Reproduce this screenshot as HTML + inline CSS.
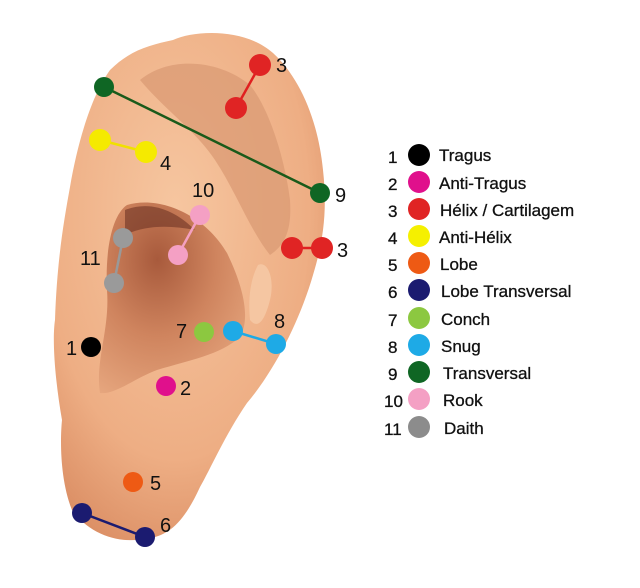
<!DOCTYPE html>
<html><head><meta charset="utf-8"><style>
html,body{margin:0;padding:0;background:#fff;}
svg{display:block}
text{font-family:"Liberation Sans",sans-serif;fill:#111;}
</style></head><body>
<svg width="640" height="588" viewBox="0 0 640 588" xmlns="http://www.w3.org/2000/svg">
<defs>
<radialGradient id="sk" cx="0.45" cy="0.35" r="0.7">
<stop offset="0" stop-color="#f6c6a0"/><stop offset="0.7" stop-color="#eeae84"/><stop offset="1" stop-color="#dc9066"/>
</radialGradient>
<radialGradient id="in" cx="0.4" cy="0.3" r="0.8">
<stop offset="0" stop-color="#a85a3c"/><stop offset="0.5" stop-color="#cf845e"/><stop offset="1" stop-color="#e6a67e"/>
</radialGradient>
</defs>
<path d="M173,40 C195,30 245,28 273,53 C300,78 318,120 323,170 C328,215 322,245 313,275 C300,320 275,370 247,403 C225,435 210,470 200,487 C185,520 170,535 150,538 C120,545 90,535 72,510 C60,480 60,440 62,420 C55,380 52,340 55,320 C57,260 64,220 70,187 C78,140 92,95 110,70 C130,50 150,45 173,40 Z" fill="url(#sk)"/>
<path d="M140,80 C170,55 220,60 250,85 C270,110 285,160 290,200 C292,230 285,245 270,255 C250,230 235,190 215,160 C195,130 165,110 140,80 Z" fill="#dc9c76" opacity="0.8"/>
<path d="M127,205 C160,195 205,215 227,253 C245,290 250,320 240,337 C220,355 190,360 157,370 C135,378 115,395 100,393 C95,360 110,330 107,290 C105,250 112,215 127,205 Z" fill="url(#in)"/>
<path d="M125,210 C150,200 175,210 195,230 C170,225 145,225 125,235 Z" fill="#6e3424" opacity="0.6"/>
<path d="M258,265 C268,260 275,280 270,300 C265,320 258,330 250,320 C248,300 250,280 258,265 Z" fill="#f6cba8" opacity="0.8"/>
<g stroke-width="2.5">
<line x1="104" y1="87" x2="320" y2="193" stroke="#1a5a1a"/>
<line x1="260" y1="65" x2="236" y2="108" stroke="#e02020"/>
<line x1="292" y1="248" x2="322" y2="248" stroke="#e02020"/>
<line x1="100" y1="140" x2="146" y2="152" stroke="#f0e000"/>
<line x1="200" y1="215" x2="178" y2="255" stroke="#f4a0c0"/>
<line x1="123" y1="238" x2="114" y2="283" stroke="#999"/>
<line x1="233" y1="331" x2="276" y2="344" stroke="#1eaae6"/>
<line x1="82" y1="513" x2="145" y2="537" stroke="#1b1b70"/>
</g>
<g>
<circle cx="104" cy="87" r="10" fill="#0f6624"/><circle cx="320" cy="193" r="10" fill="#0f6624"/>
<circle cx="260" cy="65" r="11" fill="#e02424"/><circle cx="236" cy="108" r="11" fill="#e02424"/>
<circle cx="292" cy="248" r="11" fill="#e02424"/><circle cx="322" cy="248" r="11" fill="#e02424"/>
<circle cx="100" cy="140" r="11" fill="#f5ea00"/><circle cx="146" cy="152" r="11" fill="#f5ea00"/>
<circle cx="200" cy="215" r="10" fill="#f4a0c4"/><circle cx="178" cy="255" r="10" fill="#f4a0c4"/>
<circle cx="123" cy="238" r="10" fill="#9a9a9a"/><circle cx="114" cy="283" r="10" fill="#9a9a9a"/>
<circle cx="91" cy="347" r="10" fill="#000"/>
<circle cx="204" cy="332" r="10" fill="#8cc840"/>
<circle cx="233" cy="331" r="10" fill="#1eaae6"/><circle cx="276" cy="344" r="10" fill="#1eaae6"/>
<circle cx="166" cy="386" r="10" fill="#e0108c"/>
<circle cx="133" cy="482" r="10" fill="#ee5a14"/>
<circle cx="82" cy="513" r="10" fill="#1b1b70"/><circle cx="145" cy="537" r="10" fill="#1b1b70"/>
</g>
<g font-size="20">
<text x="276" y="72">3</text><text x="335" y="202">9</text><text x="337" y="257">3</text>
<text x="160" y="170">4</text><text x="192" y="197">10</text><text x="80" y="265">11</text>
<text x="66" y="355">1</text><text x="176" y="338">7</text><text x="274" y="328">8</text>
<text x="180" y="395">2</text><text x="150" y="490">5</text><text x="160" y="532">6</text>
</g>
<g>
<circle cx="419" cy="155" r="11" fill="#000"/>
<circle cx="419" cy="182" r="11" fill="#e0108c"/>
<circle cx="419" cy="209" r="11" fill="#e02424"/>
<circle cx="419" cy="236" r="11" fill="#f5f000"/>
<circle cx="419" cy="263" r="11" fill="#ee5a14"/>
<circle cx="419" cy="290" r="11" fill="#1b1b70"/>
<circle cx="419" cy="318" r="11" fill="#8cc840"/>
<circle cx="419" cy="345" r="11" fill="#1eaae6"/>
<circle cx="419" cy="372" r="11" fill="#0f6624"/>
<circle cx="419" cy="399" r="11" fill="#f4a0c4"/>
<circle cx="419" cy="427" r="11" fill="#8c8c8c"/>
</g>
<g font-size="17" style="font-weight:500" stroke="#111" stroke-width="0.3">
<text x="388" y="163">1</text><text x="439" y="161">Tragus</text>
<text x="388" y="190">2</text><text x="439" y="189">Anti-Tragus</text>
<text x="388" y="217">3</text><text x="440" y="216">Hélix / Cartilagem</text>
<text x="388" y="244">4</text><text x="439" y="243">Anti-Hélix</text>
<text x="388" y="271">5</text><text x="440" y="270">Lobe</text>
<text x="388" y="298">6</text><text x="441" y="297">Lobe Transversal</text>
<text x="388" y="326">7</text><text x="441" y="325">Conch</text>
<text x="388" y="353">8</text><text x="441" y="352">Snug</text>
<text x="388" y="380">9</text><text x="443" y="379">Transversal</text>
<text x="384" y="407">10</text><text x="443" y="406">Rook</text>
<text x="384" y="435">11</text><text x="444" y="434">Daith</text>
</g>
</svg>
</body></html>
